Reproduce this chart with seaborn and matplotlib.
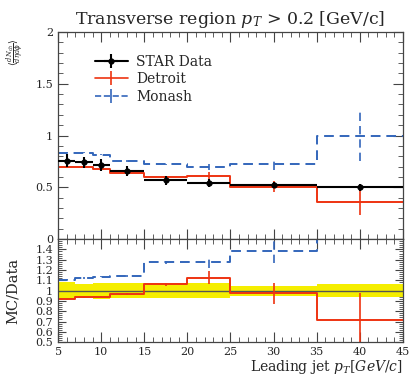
import numpy as np
import matplotlib
matplotlib.use("Agg")
import matplotlib.pyplot as plt
import pandas as pd
import seaborn as sns
from matplotlib.ticker import MultipleLocator, FixedLocator

# Leading-jet pT bins and transverse-region multiplicity density
bin_edges = [5, 7, 9, 11, 15, 20, 25, 35, 45]
star = [0.756, 0.740, 0.717, 0.660, 0.567, 0.544, 0.522, 0.500]
star_err = [0.063, 0.050, 0.055, 0.050, 0.041, 0.041, 0.026, 0.032]
detroit = [0.692, 0.692, 0.676, 0.640, 0.602, 0.612, 0.508, 0.359]
detroit_err = [0.005, 0.005, 0.006, 0.006, 0.008, 0.034, 0.053, 0.13]
monash = [0.836, 0.832, 0.814, 0.755, 0.722, 0.694, 0.724, 1.0]
monash_err = [0.005, 0.005, 0.005, 0.006, 0.008, 0.03, 0.06, 0.25]

RED = "#EE3311"
BLUE = "#3366BB"
YELLOW = "#F5EE00"
DASH = (0, (5, 3))

sns.set_theme(style="ticks")
plt.rcParams["font.family"] = ["DejaVu Serif"]
plt.rcParams["mathtext.fontset"] = "dejavuserif"

edges = np.array(bin_edges, dtype=float)
centers = 0.5 * (edges[:-1] + edges[1:])
halfw = 0.5 * np.diff(edges)
star_a = np.array(star)
star_e = np.array(star_err)


def step_frame(vals):
    return pd.DataFrame({"x": edges, "y": np.append(vals, vals[-1])})


def draw_mc(axis, vals, errs, col, ls):
    sns.lineplot(data=step_frame(vals), x="x", y="y", ax=axis, color=col,
                 linestyle=ls, linewidth=1.4, drawstyle="steps-post",
                 sort=False, estimator=None, legend=False)
    eb = axis.errorbar(centers, vals, yerr=errs, fmt="none", ecolor=col,
                       elinewidth=1.2)
    eb[-1][0].set_linestyle(ls)


fig = plt.figure(figsize=(4.09, 3.76), dpi=100)
ax = fig.add_axes([0.142, 0.364, 0.843, 0.551])
rx = fig.add_axes([0.142, 0.090, 0.843, 0.274], sharex=ax)

# ---- main panel ----
draw_mc(ax, detroit, detroit_err, RED, "-")
draw_mc(ax, monash, monash_err, BLUE, DASH)

ax.errorbar(centers, star, xerr=halfw, yerr=star_err, fmt="o", color="black",
            markersize=3.5, elinewidth=1.5, capsize=0, zorder=5)

# legend proxies
h_data = ax.errorbar([np.nan], [np.nan], xerr=[1], yerr=[1], fmt="o-",
                     color="black", markersize=3.5, lw=1.5, label="STAR Data")
h_det = ax.errorbar([np.nan], [np.nan], yerr=[1], fmt="-", color=RED,
                    lw=1.2, label="Detroit")
h_mon = ax.errorbar([np.nan], [np.nan], yerr=[1], fmt="--", color=BLUE,
                    lw=1.2, label="Monash")
ax.legend(handles=[h_data, h_det, h_mon], loc="upper left",
          bbox_to_anchor=(0.07, 0.95), frameon=False, fontsize=10,
          handlelength=2.4, handletextpad=0.6, labelspacing=0.25)

ax.set_xlim(5, 45)
ax.set_ylim(0, 2)
ax.yaxis.set_major_locator(FixedLocator([0, 0.5, 1, 1.5, 2]))
ax.set_yticklabels(["0", "0.5", "1", "1.5", "2"])
ax.yaxis.set_minor_locator(MultipleLocator(0.1))
ax.set_xlabel("")
ax.set_ylabel(r"$\langle\frac{dN_{ch}}{d\eta d\phi}\rangle$", fontsize=7)
ax.yaxis.set_label_coords(-0.09, 0.9)
ax.set_title(r"Transverse region $p_T$ > 0.2 [GeV/c]", fontsize=12.5, pad=6)
plt.setp(ax.get_xticklabels(), visible=False)

# ---- ratio panel ----
rel = star_e / star_a
band_lo = np.append(1 - rel, 1 - rel[-1])
band_hi = np.append(1 + rel, 1 + rel[-1])
rx.fill_between(edges, band_lo, band_hi, step="post", color=YELLOW,
                linewidth=0, zorder=1)
rx.axhline(1.0, color="#555555", lw=1.0, zorder=2)

draw_mc(rx, np.array(detroit) / star_a, np.array(detroit_err) / star_a, RED, "-")
draw_mc(rx, np.array(monash) / star_a, np.array(monash_err) / star_a, BLUE, DASH)

rx.set_ylim(0.5, 1.5)
rx.yaxis.set_major_locator(FixedLocator(np.round(np.arange(0.5, 1.41, 0.1), 1)))
rx.set_yticklabels(["0.5", "0.6", "0.7", "0.8", "0.9", "1", "1.1", "1.2",
                    "1.3", "1.4"])
rx.yaxis.set_minor_locator(MultipleLocator(0.02))
rx.xaxis.set_major_locator(MultipleLocator(5))
rx.xaxis.set_minor_locator(MultipleLocator(1))
rx.set_ylabel("MC/Data", fontsize=10.5)
rx.yaxis.set_label_coords(-0.11, 0.5)
rx.set_xlabel(r"Leading jet $p_T[GeV/c]$", fontsize=10, loc="right", labelpad=1)

for a in (ax, rx):
    a.tick_params(which="both", direction="in", top=True, right=True,
                  labelsize=8, color="#444444")
    a.tick_params(which="major", length=7, width=0.8)
    a.tick_params(which="minor", length=3.5, width=0.6)
    for s in a.spines.values():
        s.set_linewidth(0.9)
        s.set_color("#444444")
rx.tick_params(axis="y", which="major", length=6)
rx.tick_params(axis="y", which="minor", length=3)

fig.savefig("out.png", dpi=100)
